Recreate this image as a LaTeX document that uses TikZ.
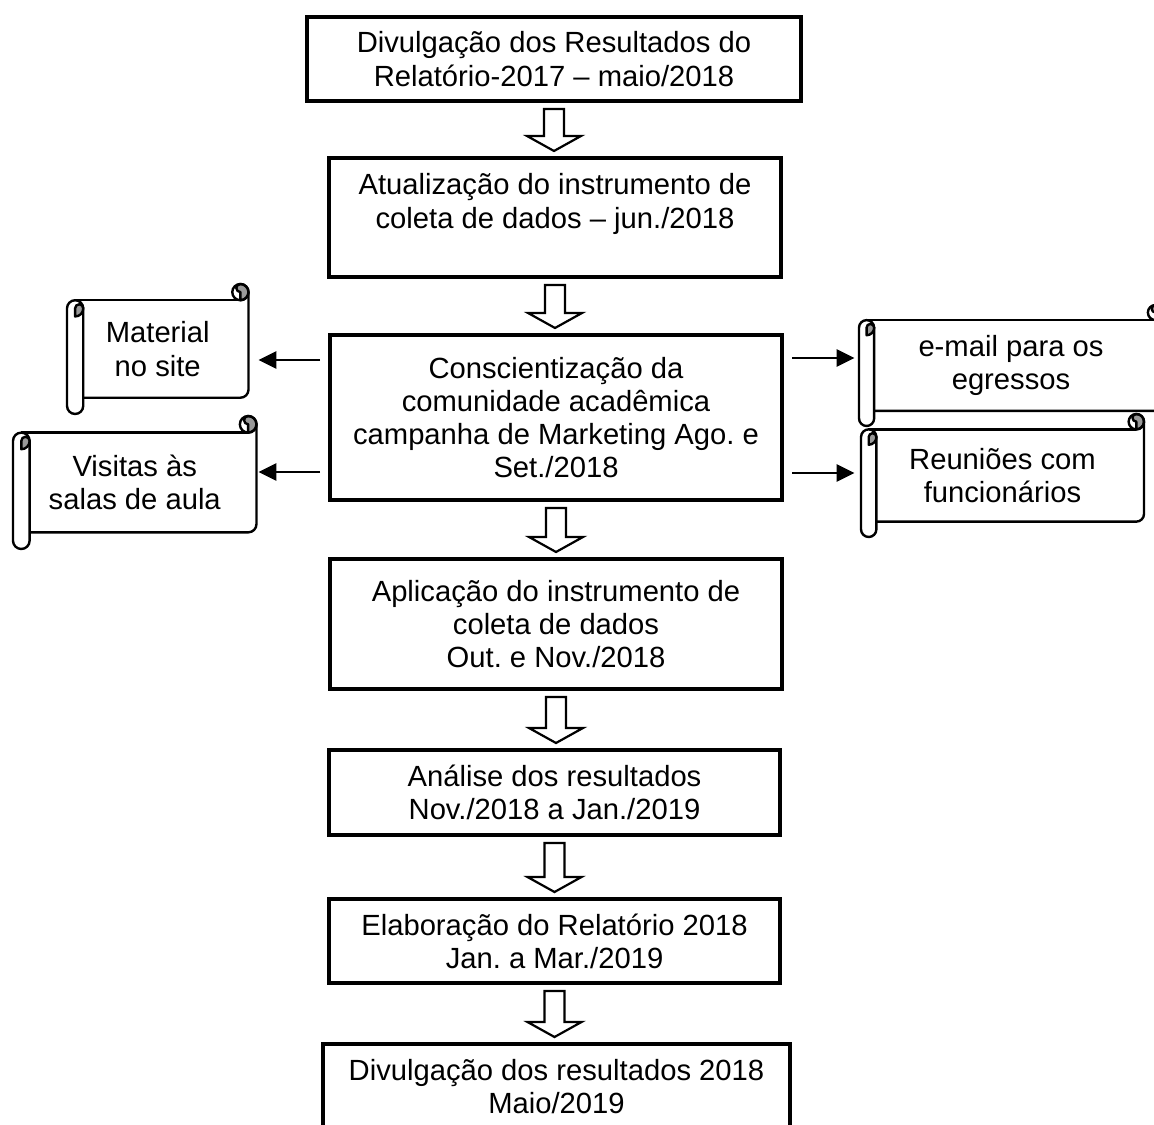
\documentclass[tikz,border=0pt]{standalone}
\usepackage{fontspec}
\setmainfont{Liberation Sans}
\usepackage{tikz}
\usetikzlibrary{positioning, calc, arrows.meta}
\frenchspacing

\definecolor{curlgray}{gray}{0.6}

% scroll: name, left, bottom, right, top, text
\newcommand{\scrollnode}[6]{%
  \pgfmathsetmacro{\scrc}{0.125*(#5-#3)}%
  \pgfmathsetmacro{\scrh}{\scrc/2}%
  \pgfmathsetmacro{\scrq}{\scrc/4}%
  \draw[scrollline] (#2+\scrh, #5-\scrc) -- (#4-\scrh, #5-\scrc);
  \draw[scrollline] (#4, #5-\scrh) -- (#4, #3+\scrc+\scrh) arc (0:-90:\scrh) -- (#2+\scrc, #3+\scrc);
  \draw[scrollline, fill=curlgray] (#4-\scrh, #5-\scrc) arc (-90:90:\scrh) arc (90:270:\scrq) -- cycle;
  \draw[scrollline] (#4-\scrh, #5-\scrh) circle (\scrh);
  \draw[scrollline, fill=white] (#2, #3+\scrh) -- (#2, #5-\scrc-\scrh) arc (180:0:\scrh)
    -- (#2+\scrc, #3+\scrh) arc (0:-180:\scrh) -- cycle;
  \draw[scrollline, fill=curlgray] (#2+\scrh, #5-2*\scrc) arc (-90:0:\scrh) arc (0:180:\scrq) -- cycle;
  \node[inner sep=0pt, minimum width={(#4-#2)*0.5pt}, minimum height={(#5-#3)*0.5pt}]
    (#1) at ({(#2+#4)/2}, {(#3+#5)/2}) {#6};
}

\begin{document}
\begin{tikzpicture}[x=0.5pt, y=0.5pt,
    every node/.style={font=\fontsize{14.6pt}{16.6pt}\selectfont, align=center},
    box/.style={draw, line width=2pt, inner sep=0pt},
    scrollline/.style={line width=1.2pt, line join=round},
    sidearrow/.style={line width=1.4pt, -{Triangle[length=9pt, width=8.5pt]}},
    hollow/.style={line width=1.1pt, to path={let \p1=(\tikztostart), \p2=(\tikztotarget) in
      (\x1-5pt,\y1-3pt) -- (\x1+5pt,\y1-3pt) -- (\x1+5pt,\y2+10pt) -- (\x1+13.5pt,\y2+10pt)
      -- (\x1,\y2+2.5pt) -- (\x1-13.5pt,\y2+10pt) -- (\x1-5pt,\y2+10pt) -- cycle}}]

    \path[fill=white, use as bounding box] (0, 0) rectangle (1154, 1124);
    \clip (0, 0) rectangle (1154, 1124);

    % The steps
    \node[box, minimum width=247pt, minimum height=42pt] (b1) at (554, 1065)
      {Divulgação dos Resultados do\\Relatório-2017 – maio/2018};
    \node[box, minimum width=226pt, minimum height=59.5pt] (b2) at (555, 906.5)
      {Atualização do instrumento de\\coleta de dados – jun./2018\\\mbox{}};
    \node[box, minimum width=226pt, minimum height=82.5pt] (b3) at (556, 706.5)
      {Conscientização da\\comunidade acadêmica\\campanha de Marketing Ago. e\\Set./2018};
    \node[box, minimum width=226pt, minimum height=65pt] (b4) at (556, 500)
      {Aplicação do instrumento de\\coleta de dados\\Out. e Nov./2018};
    \node[box, minimum width=225.5pt, minimum height=42.5pt] (b5) at (554.5, 331.5)
      {Análise dos resultados\\Nov./2018 a Jan./2019};
    \node[box, minimum width=225.5pt, minimum height=42pt] (b6) at (554.5, 183)
      {Elaboração do Relatório 2018\\Jan. a Mar./2019};
    \node[box, minimum width=233.5pt, minimum height=42.5pt] (b7) at (556.5, 37.5)
      {Divulgação dos resultados 2018\\Maio/2019};

    % The scrolls
    \scrollnode{site}{67}{710}{248.5}{840}{Material\\no site}
    \scrollnode{visitas}{13}{575}{256.5}{708}{Visitas às\\salas de aula}
    \scrollnode{email}{859}{698}{1163}{819}{e-mail para os\\egressos}
    \scrollnode{reunioes}{861}{587}{1144}{710}{Reuniões com\\funcionários}

    % Block arrows
    \draw[hollow] (b1.south) to (b2.north);
    \draw[hollow] (b2.south) to (b3.north);
    \draw[hollow] (b3.south) to (b4.north);
    \draw[hollow] (b4.south) to (b5.north);
    \draw[hollow] (b5.south) to (b6.north);
    \draw[hollow] (b6.south) to (b7.north);

    % Side arrows
    \coordinate (m1) at ([shift={(-8,-27)}]b3.north west);
    \coordinate (m2) at ([shift={(-8,30)}]b3.south west);
    \coordinate (m3) at ([shift={(8,-25)}]b3.north east);
    \coordinate (m4) at ([shift={(8,29)}]b3.south east);
    \draw[sidearrow, shorten >=4.75pt] (m1) -- (m1 -| site.east);
    \draw[sidearrow, shorten >=0.75pt] (m2) -- (m2 -| visitas.east);
    \draw[sidearrow, shorten >=2pt] (m3) -- (m3 -| email.west);
    \draw[sidearrow, shorten >=3pt] (m4) -- (m4 -| reunioes.west);
  \end{tikzpicture}
\end{document}
